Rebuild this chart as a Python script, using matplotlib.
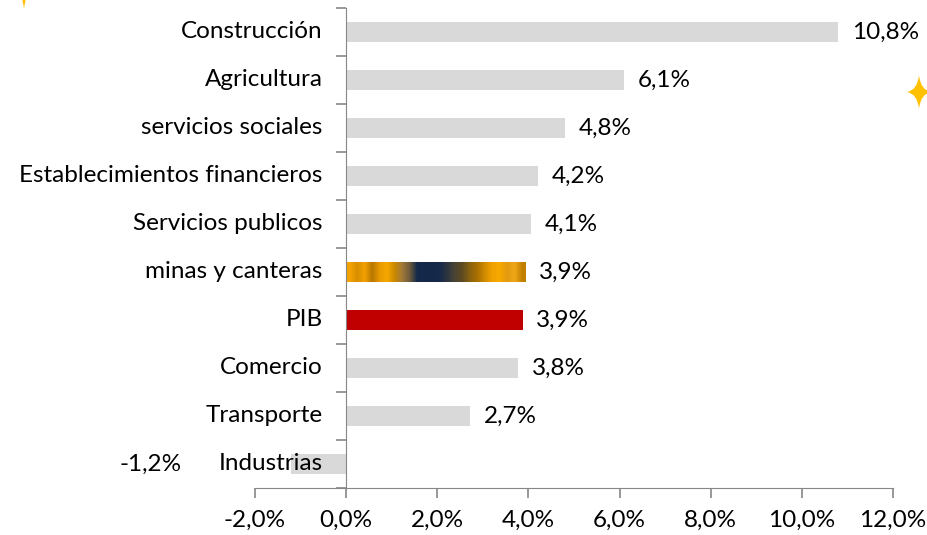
import numpy as np
import matplotlib
matplotlib.use("Agg")
import matplotlib.pyplot as plt
from matplotlib.path import Path
from matplotlib.patches import PathPatch
from matplotlib.colors import to_rgb
from matplotlib.ticker import FixedLocator, FuncFormatter

plt.rcParams['font.family'] = ['Lato', 'DejaVu Sans']

# data, top to bottom
sectores = ['Construcción', 'Agricultura', 'servicios sociales', 'Establecimientos financieros',
            'Servicios publicos', 'minas y canteras', 'PIB', 'Comercio', 'Transporte', 'Industrias']
crecimiento = [10.8, 6.1, 4.8, 4.2, 4.06, 3.93, 3.87, 3.78, 2.72, -1.2]

gris = '#D9D9D9'
rojo = '#C00000'
eje = '#868686'
fs = 17.5

# stripes used to paint the "minas y canteras" bar
franjas = ['#F5A300', '#D98E00', '#F2A000', '#B87700', '#E89A00', '#F7A800', '#C98800',
           '#A07A3A', '#6E5A3A', '#14294A', '#14294A', '#14294A', '#16294A', '#2E3540',
           '#4A4434', '#5E4A22', '#8A6210', '#A87000', '#D08C00', '#F2A200', '#F7A800',
           '#E39A10', '#F0A818', '#C28000']

fig = plt.figure(figsize=(9.28, 5.35), dpi=100)
ax = fig.add_axes([255 / 928, 1 - 488 / 535, (893 - 255) / 928, (488 - 8) / 535])

y = np.arange(len(sectores))[::-1]
colores = [gris] * len(sectores)
colores[sectores.index('PIB')] = rojo
barras = ax.barh(y, crecimiento, height=0.4, color=colores, zorder=2)

# gradient fill for minas y canteras
i = sectores.index('minas y canteras')
b = barras[i]
b.set_facecolor('none')
img = np.array([[to_rgb(c) for c in franjas]])
x0, y0, w, h = b.get_x(), b.get_y(), b.get_width(), b.get_height()
im = ax.imshow(img, extent=[x0, x0 + w, y0, y0 + h], aspect='auto', interpolation='bilinear', zorder=2)
im.set_clip_path(b)

ax.set_xlim(-2, 12)
ax.set_ylim(-0.5, len(sectores) - 0.5)

for s in ['top', 'right']:
    ax.spines[s].set_visible(False)
ax.spines['left'].set_position(('data', 0))
ax.spines['left'].set_color(eje)
ax.spines['bottom'].set_color(eje)

ax.set_xticks(np.arange(-2, 12.1, 2))
ax.xaxis.set_major_formatter(FuncFormatter(lambda v, p: f'{v:.1f}%'.replace('.', ',')))
ax.tick_params(axis='x', colors=eje, labelcolor='black', length=7, width=1.2,
               labelsize=fs, pad=9)

ax.set_yticks([])
ax.yaxis.set_minor_locator(FixedLocator(np.arange(-0.5, len(sectores), 1)))
ax.tick_params(axis='y', which='minor', colors=eje, length=7, width=1.2, direction='out')

# category labels to the left of the axis
for yy, nombre in zip(y, sectores):
    ax.annotate(nombre, (0, yy), xytext=(-17, 0), textcoords='offset points',
                ha='right', va='center', fontsize=fs, zorder=5)

# value labels
for yy, v in zip(y, crecimiento):
    txt = f'{v:.1f}%'.replace('.', ',')
    if v >= 0:
        ax.annotate(txt, (v, yy), xytext=(10, 0), textcoords='offset points',
                    ha='left', va='center', fontsize=fs)
    else:
        ax.annotate(txt, (v, yy), xytext=(-79, 0), textcoords='offset points',
                    ha='right', va='center', fontsize=fs)


def estrella(cx, cy, rx, ry):
    k = 0.12
    verts = [(cx, cy + ry), (cx + rx * k, cy + ry * k), (cx + rx, cy),
             (cx + rx * k, cy - ry * k), (cx, cy - ry),
             (cx - rx * k, cy - ry * k), (cx - rx, cy),
             (cx - rx * k, cy + ry * k), (cx, cy + ry), (cx, cy + ry)]
    codes = [Path.MOVETO, Path.CURVE3, Path.CURVE3, Path.CURVE3, Path.CURVE3,
             Path.CURVE3, Path.CURVE3, Path.CURVE3, Path.CURVE3, Path.CLOSEPOLY]
    W, H = 928, 535
    verts = [(px / W, 1 - py / H) for px, py in verts]
    fig.patches.append(PathPatch(Path(verts, codes), transform=fig.transFigure,
                                 facecolor='#FFC000', edgecolor='none', zorder=10))


estrella(919, 92, 12, 17)
estrella(24, -8, 8, 18)

fig.savefig('out.png', dpi=100)
